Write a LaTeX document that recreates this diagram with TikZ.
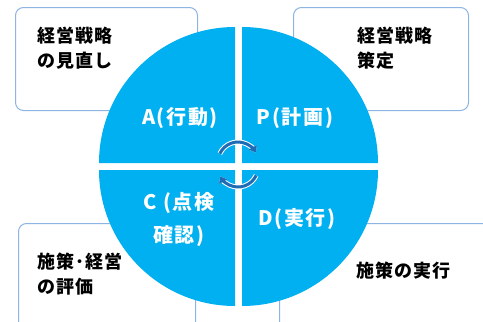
\documentclass[tikz,border=0pt]{standalone}
\usepackage{fontspec}
\setmainfont{Noto Sans CJK JP}
\usetikzlibrary{arrows.meta}
\definecolor{quadblue}{HTML}{00B0F0}
\definecolor{boxline}{HTML}{8EB4E3}
\definecolor{cycleblue}{HTML}{1F6BB5}

\begin{document}
\begin{tikzpicture}[
    x=1pt, y=-1pt,
    infobox/.style={draw=boxline, line width=1pt, fill=white, rounded corners=8pt, anchor=north west, inner sep=0pt},
    boxtext/.style={font=\fontsize{18}{25}\selectfont\bfseries\addfontfeature{LetterSpace=6}, align=left, anchor=north west, inner sep=0pt, text=black},
    quadlabel/.style={font=\fontsize{20}{33}\selectfont\bfseries\addfontfeature{LetterSpace=8}, align=center, inner sep=0pt, text=white},
    quadrant/.style={fill=quadblue},
    cyclearc/.style={draw=cycleblue, line width=3pt, -{Triangle[width=9pt,length=6pt]},
        preaction={draw=white, line width=5pt}}
]
\useasboundingbox (0,0) rectangle (483,322);

% Boxes behind the circle
\node[infobox, minimum width=182pt, minimum height=103pt] (actbox) at (15,7) {};
\node[infobox, minimum width=175pt, minimum height=103pt] (planbox) at (293,7) {};
\node[infobox, minimum width=177pt, minimum height=110pt] (checkbox) at (18,223) {};
\node[infobox, minimum width=250pt, minimum height=110pt] (dobox) at (279,223) {};

% Texts of the boxes
\node[boxtext] (acttext) at (37,27) {経営戦略\\の見直し};
\node[boxtext] (plantext) at (357,27) {経営戦略\\策定};
\node[boxtext] (checktext) at (37,253) {施策･経営\\の評価};
\node[boxtext] (dotext) at (356,262) {施策の実行};

% Quadrants of the circle
\fill[quadrant] (235,163) -- ++(-136pt,0) arc[start angle=180, end angle=90, radius=136pt] -- cycle;
\fill[quadrant] (242,163) -- ++(136pt,0) arc[start angle=0, end angle=90, radius=136pt] -- cycle;
\fill[quadrant] (235,170) -- ++(-136pt,0) arc[start angle=180, end angle=270, radius=136pt] -- cycle;
\fill[quadrant] (242,170) -- ++(136pt,0) arc[start angle=0, end angle=-90, radius=136pt] -- cycle;

% Labels of the quadrants
\node[quadlabel] (act) at (180,118) {A(行動)};
\node[quadlabel] (plan) at (295,118) {P(計画)};
\node[quadlabel] (check) at (179,219) {C (点検\\確認)};
\node[quadlabel] (do) at (297,219) {D(実行)};

% Turning arrows in the middle
\draw[cyclearc] (238,162) ++(155:20pt) arc[start angle=155, end angle=28, radius=20pt];
\draw[cyclearc] (238,167) ++(-25:20pt) arc[start angle=-25, end angle=-152, radius=20pt];

\end{tikzpicture}
\end{document}
